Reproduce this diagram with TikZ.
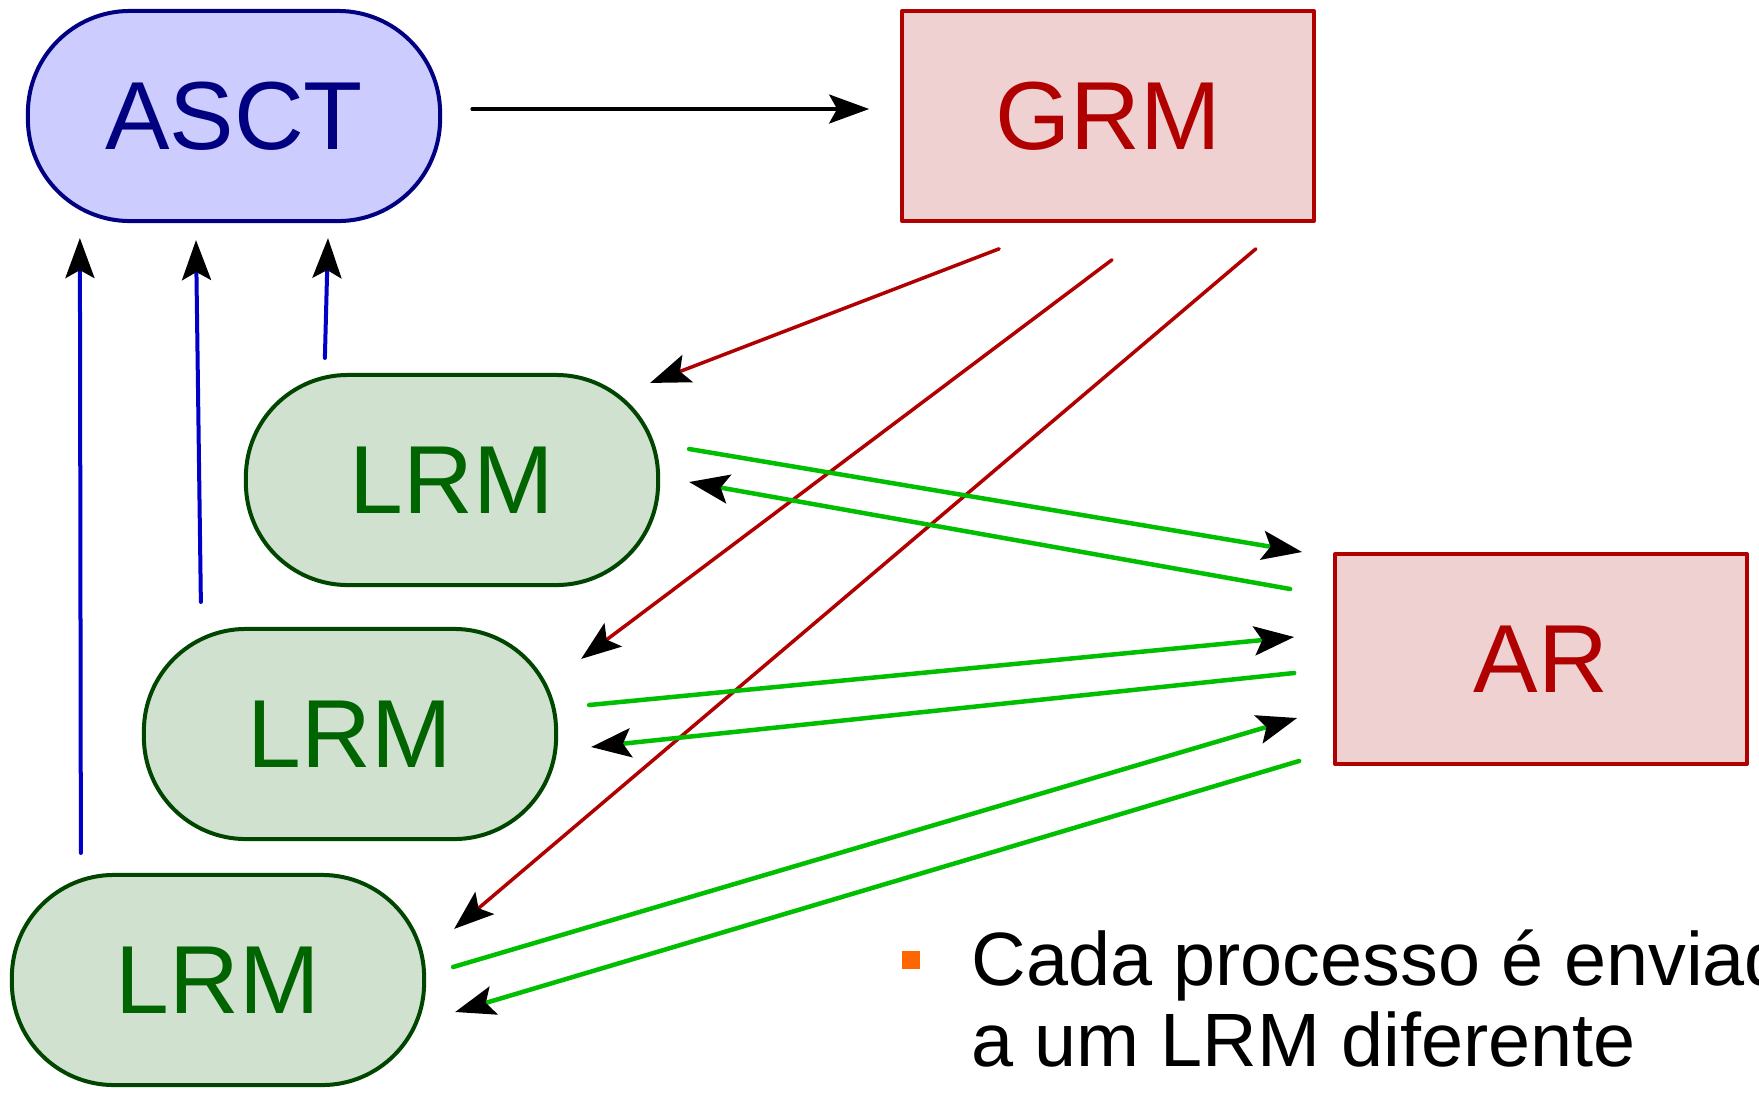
\documentclass[tikz,border=0pt]{standalone}
\usepackage{fontspec}
\setmainfont{Liberation Sans}
\usetikzlibrary{arrows.meta}

\definecolor{asctfill}{RGB}{204,204,255}
\definecolor{asctline}{RGB}{0,0,128}
\definecolor{grmfill}{RGB}{239,209,209}
\definecolor{grmline}{RGB}{176,0,0}
\definecolor{lrmfill}{RGB}{208,225,208}
\definecolor{lrmline}{RGB}{0,70,0}
\definecolor{lrmtext}{RGB}{0,100,0}
\definecolor{upline}{RGB}{0,0,200}
\definecolor{arline}{RGB}{0,190,0}
\definecolor{bulletcol}{RGB}{255,102,0}

\begin{document}
\begin{tikzpicture}[line cap=round,line join=round,x=0.01cm,y=-0.01cm,
  tip/.style={-{Stealth[black,length=0.4cm,width=0.29cm,inset=0.08cm]}},
  pill/.style={draw,rounded corners=1.02cm,minimum width=4.12cm,minimum height=2.1cm,
    line width=0.04cm,font=\fontsize{27.5}{30}\selectfont},
  box/.style={draw=grmline,fill=grmfill,text=grmline,minimum width=4.12cm,minimum height=2.1cm,
    line width=0.035cm,font=\fontsize{27.5}{30}\selectfont},
  asctnode/.style={pill,draw=asctline,fill=asctfill,text=asctline},
  lrmnode/.style={pill,draw=lrmline,fill=lrmfill,text=lrmtext},
  uparrow/.style={tip,upline,line width=0.04cm},
  redarrow/.style={tip,grmline,line width=0.035cm},
  greenarrow/.style={tip,arline,line width=0.045cm},
  note/.style={anchor=base west,inner sep=0,font=\fontsize{21.5}{23}\selectfont}]
\useasboundingbox (0,0) rectangle (1759,1096);
\clip (0,0) rectangle (1759,1096);
% nodes
\node[asctnode] (asct) at (234,116) {ASCT};
\node[box] (grm) at (1108,116) {GRM};
\node[lrmnode] (lrmA) at (452,480) {LRM};
\node[lrmnode] (lrmB) at (350,734) {LRM};
\node[lrmnode] (lrmC) at (218,980) {LRM};
\node[box] (ar) at (1541,659) {AR};
% ASCT to GRM
\draw[tip,line width=0.035cm] ([shift={(30,-7)}]asct.east) -- ([shift={(-31,-7)}]grm.west);
% LRM up to ASCT
\draw[uparrow] ([shift={(71,-20)}]lrmC.north west) -- ([shift={(54,15)}]asct.south west);
\draw[uparrow] ([shift={(59,-25)}]lrmB.north west) -- ([shift={(-38,17)}]asct.south);
\draw[uparrow] ([shift={(81,-15)}]lrmA.north west) -- ([shift={(94,15)}]asct.south);
% GRM down to LRM
\draw[redarrow] ([shift={(99,26)}]grm.south west) -- ([shift={(-10,10)}]lrmA.north east);
\draw[redarrow] ([shift={(4,37)}]grm.south) -- ([shift={(23,32)}]lrmB.north east);
\draw[redarrow] ([shift={(-60,26)}]grm.south east) -- ([shift={(28,56)}]lrmC.north east);
% LRM and AR
\draw[greenarrow] ([shift={(29,-31)}]lrmA.east) -- ([shift={(-31,-107)}]ar.west);
\draw[greenarrow] ([shift={(-43,-70)}]ar.west) -- ([shift={(29,2)}]lrmA.east);
\draw[greenarrow] ([shift={(31,-29)}]lrmB.east) -- ([shift={(-39,-22)}]ar.west);
\draw[greenarrow] ([shift={(-39,14)}]ar.west) -- ([shift={(33,13)}]lrmB.east);
\draw[greenarrow] ([shift={(27,-13)}]lrmC.east) -- ([shift={(-36,59)}]ar.west);
\draw[greenarrow] ([shift={(-34,102)}]ar.west) -- ([shift={(29,32)}]lrmC.east);
% note
\node[fill=bulletcol,inner sep=0,minimum size=0.18cm] (bul) at (911,960) {};
\node[note] (noteA) at (971,985) {Cada processo é enviado};
\node[note] (noteB) at (971,1066) {a um LRM diferente};
\end{tikzpicture}
\end{document}
